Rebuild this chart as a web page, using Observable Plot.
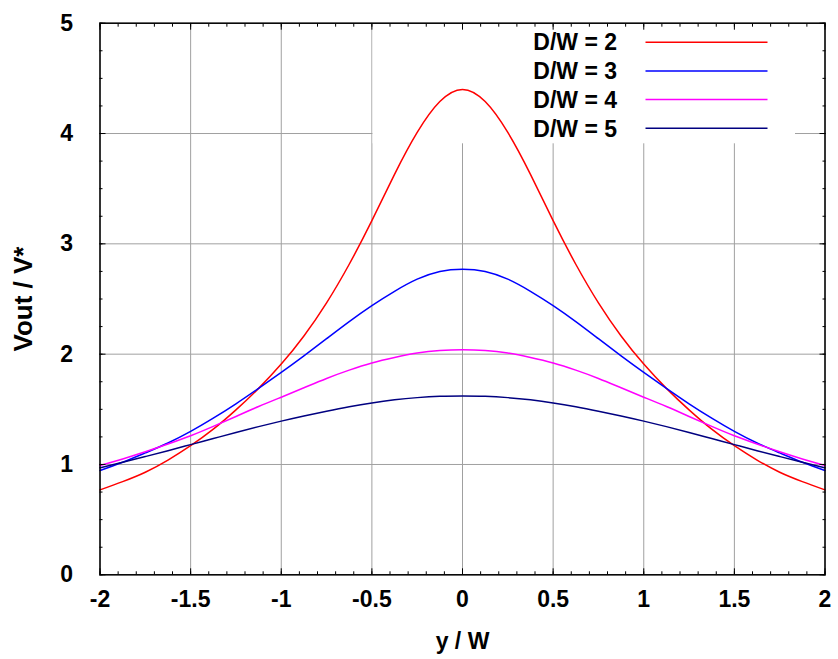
<!DOCTYPE html>
<html>
<head>
<meta charset="utf-8">
<script src="https://cdn.jsdelivr.net/npm/d3@7"></script>
<script src="https://cdn.jsdelivr.net/npm/@observablehq/plot@0.6"></script>
<style>
  body { margin: 0; background: #ffffff; }
  #chart svg { display: block; }
</style>
</head>
<body>
<div id="chart"></div>
<script>
// ---- data ----
const xValues = [-2, -1.875, -1.75, -1.625, -1.5, -1.375, -1.25, -1.125, -1, -0.875, -0.75, -0.625, -0.5, -0.375, -0.25, -0.125, 0,
                 0.125, 0.25, 0.375, 0.5, 0.625, 0.75, 0.875, 1, 1.125, 1.25, 1.375, 1.5, 1.625, 1.75, 1.875, 2];
const seriesNames = ["D/W = 2", "D/W = 3", "D/W = 4", "D/W = 5"];
const seriesColors = ["#ff0000", "#0000ff", "#ff00ff", "#000080"];
const dw2 = [0.77, 0.845, 0.93, 1.04, 1.17, 1.32, 1.495, 1.69, 1.91, 2.165, 2.465, 2.815, 3.21, 3.63, 4.01, 4.29, 4.40,
             4.29, 4.01, 3.63, 3.21, 2.815, 2.465, 2.165, 1.91, 1.69, 1.495, 1.32, 1.17, 1.04, 0.93, 0.845, 0.77];
const dw3 = [0.945, 1.02, 1.105, 1.195, 1.30, 1.42, 1.55, 1.69, 1.835, 1.985, 2.14, 2.295, 2.44, 2.57, 2.68, 2.75, 2.77,
             2.75, 2.68, 2.57, 2.44, 2.295, 2.14, 1.985, 1.835, 1.69, 1.55, 1.42, 1.30, 1.195, 1.105, 1.02, 0.945];
const dw4 = [0.99, 1.05, 1.115, 1.185, 1.26, 1.345, 1.435, 1.525, 1.61, 1.695, 1.78, 1.855, 1.92, 1.97, 2.01, 2.033, 2.04,
             2.033, 2.01, 1.97, 1.92, 1.855, 1.78, 1.695, 1.61, 1.525, 1.435, 1.345, 1.26, 1.185, 1.115, 1.05, 0.99];
const dw5 = [0.97, 1.02, 1.072, 1.125, 1.18, 1.235, 1.29, 1.343, 1.393, 1.44, 1.483, 1.523, 1.558, 1.586, 1.606, 1.618, 1.621,
             1.618, 1.606, 1.586, 1.558, 1.523, 1.483, 1.44, 1.393, 1.343, 1.29, 1.235, 1.18, 1.125, 1.072, 1.02, 0.97];
const xTicks = [-2, -1.5, -1, -0.5, 0, 0.5, 1, 1.5, 2];
const yTicks = [0, 1, 2, 3, 4, 5];
const xLabel = "y / W";
const yLabel = "Vout / V*";

// ---- build tidy table ----
const seriesValues = [dw2, dw3, dw4, dw5];
const rows = [];
seriesNames.forEach((name, s) => {
  xValues.forEach((x, i) => rows.push({series: name, x, v: seriesValues[s][i]}));
});
const xMinor = d3.range(-20, 21).map(i => i / 10);
const yMinor = d3.range(0, 21).map(i => i / 4);

const FONT = "'Liberation Sans', Arial, Helvetica, sans-serif";
const FS = 23;

// legend (white key box hiding the grid, then entries)
function legendMark(index, scales, values, dims) {
  const right = dims.width - dims.marginRight;
  const top = dims.marginTop;
  const g = d3.create("svg:g");
  g.append("rect")
    .attr("x", right - 452).attr("y", top + 1)
    .attr("width", 422.5).attr("height", 119.6)
    .attr("fill", "#ffffff");
  seriesNames.forEach((name, i) => {
    const cy = top + 19.5 + i * 28.7;
    g.append("text")
      .attr("x", right - 207.5).attr("y", cy)
      .attr("dy", "0.36em")
      .attr("text-anchor", "end")
      .attr("font-family", FONT).attr("font-size", FS).attr("font-weight", "bold")
      .attr("fill", "#000")
      .text(name);
    g.append("line")
      .attr("x1", right - 179).attr("x2", right - 57)
      .attr("y1", cy).attr("y2", cy)
      .attr("stroke", seriesColors[i]).attr("stroke-width", 1.5);
  });
  return g.node();
}

const chart = Plot.plot({
  width: 838,
  height: 659,
  marginLeft: 99.5,
  marginRight: 13.5,
  marginTop: 22.7,
  marginBottom: 84.7,
  style: {fontFamily: FONT, background: "#ffffff"},
  x: {domain: [-2, 2], labelArrow: "none"},
  y: {domain: [0, 5], labelArrow: "none"},
  color: {domain: seriesNames, range: seriesColors},
  marks: [
    Plot.gridX(xTicks, {stroke: "#a0a0a0", strokeOpacity: 1, strokeWidth: 1}),
    Plot.gridY(yTicks, {stroke: "#a0a0a0", strokeOpacity: 1, strokeWidth: 1}),
    legendMark,
    Plot.line(rows, {x: "x", y: "v", z: "series", stroke: "series", strokeWidth: 1.5, curve: "natural"}),
    // minor ticks, pointing inward, on all four sides
    Plot.axisX(xMinor, {anchor: "bottom", tickSize: -3, tickFormat: () => "", label: null, stroke: "#000"}),
    Plot.axisX(xMinor, {anchor: "top", tickSize: -3, tickFormat: () => "", label: null, stroke: "#000"}),
    Plot.axisY(yMinor, {anchor: "left", tickSize: -3, tickFormat: () => "", label: null, stroke: "#000"}),
    Plot.axisY(yMinor, {anchor: "right", tickSize: -3, tickFormat: () => "", label: null, stroke: "#000"}),
    // major ticks + labels
    Plot.axisX(xTicks, {anchor: "bottom", tickSize: -6, tickPadding: 22, tickFormat: d => String(d),
      fontSize: FS, fontWeight: "bold", fill: "#000", stroke: "#000",
      label: xLabel, labelAnchor: "center", labelOffset: 74, labelArrow: "none"}),
    Plot.axisX(xTicks, {anchor: "top", tickSize: -6, tickFormat: () => "", label: null, stroke: "#000"}),
    Plot.axisY(yTicks, {anchor: "left", tickSize: -6, tickPadding: 33, tickFormat: d => String(d),
      fontSize: FS, fontWeight: "bold", fill: "#000", stroke: "#000", label: null}),
    // y-axis title (slightly larger than the tick labels)
    Plot.axisY([], {anchor: "left", tickSize: 0, fontSize: 26, fontWeight: "bold", fill: "#000",
      label: yLabel, labelAnchor: "center", labelOffset: 86, labelArrow: "none"}),
    Plot.axisY(yTicks, {anchor: "right", tickSize: -6, tickFormat: () => "", label: null, stroke: "#000"}),
    Plot.frame({stroke: "#000", strokeWidth: 1.5})
  ]
});
document.getElementById("chart").appendChild(chart);
</script>
</body>
</html>
